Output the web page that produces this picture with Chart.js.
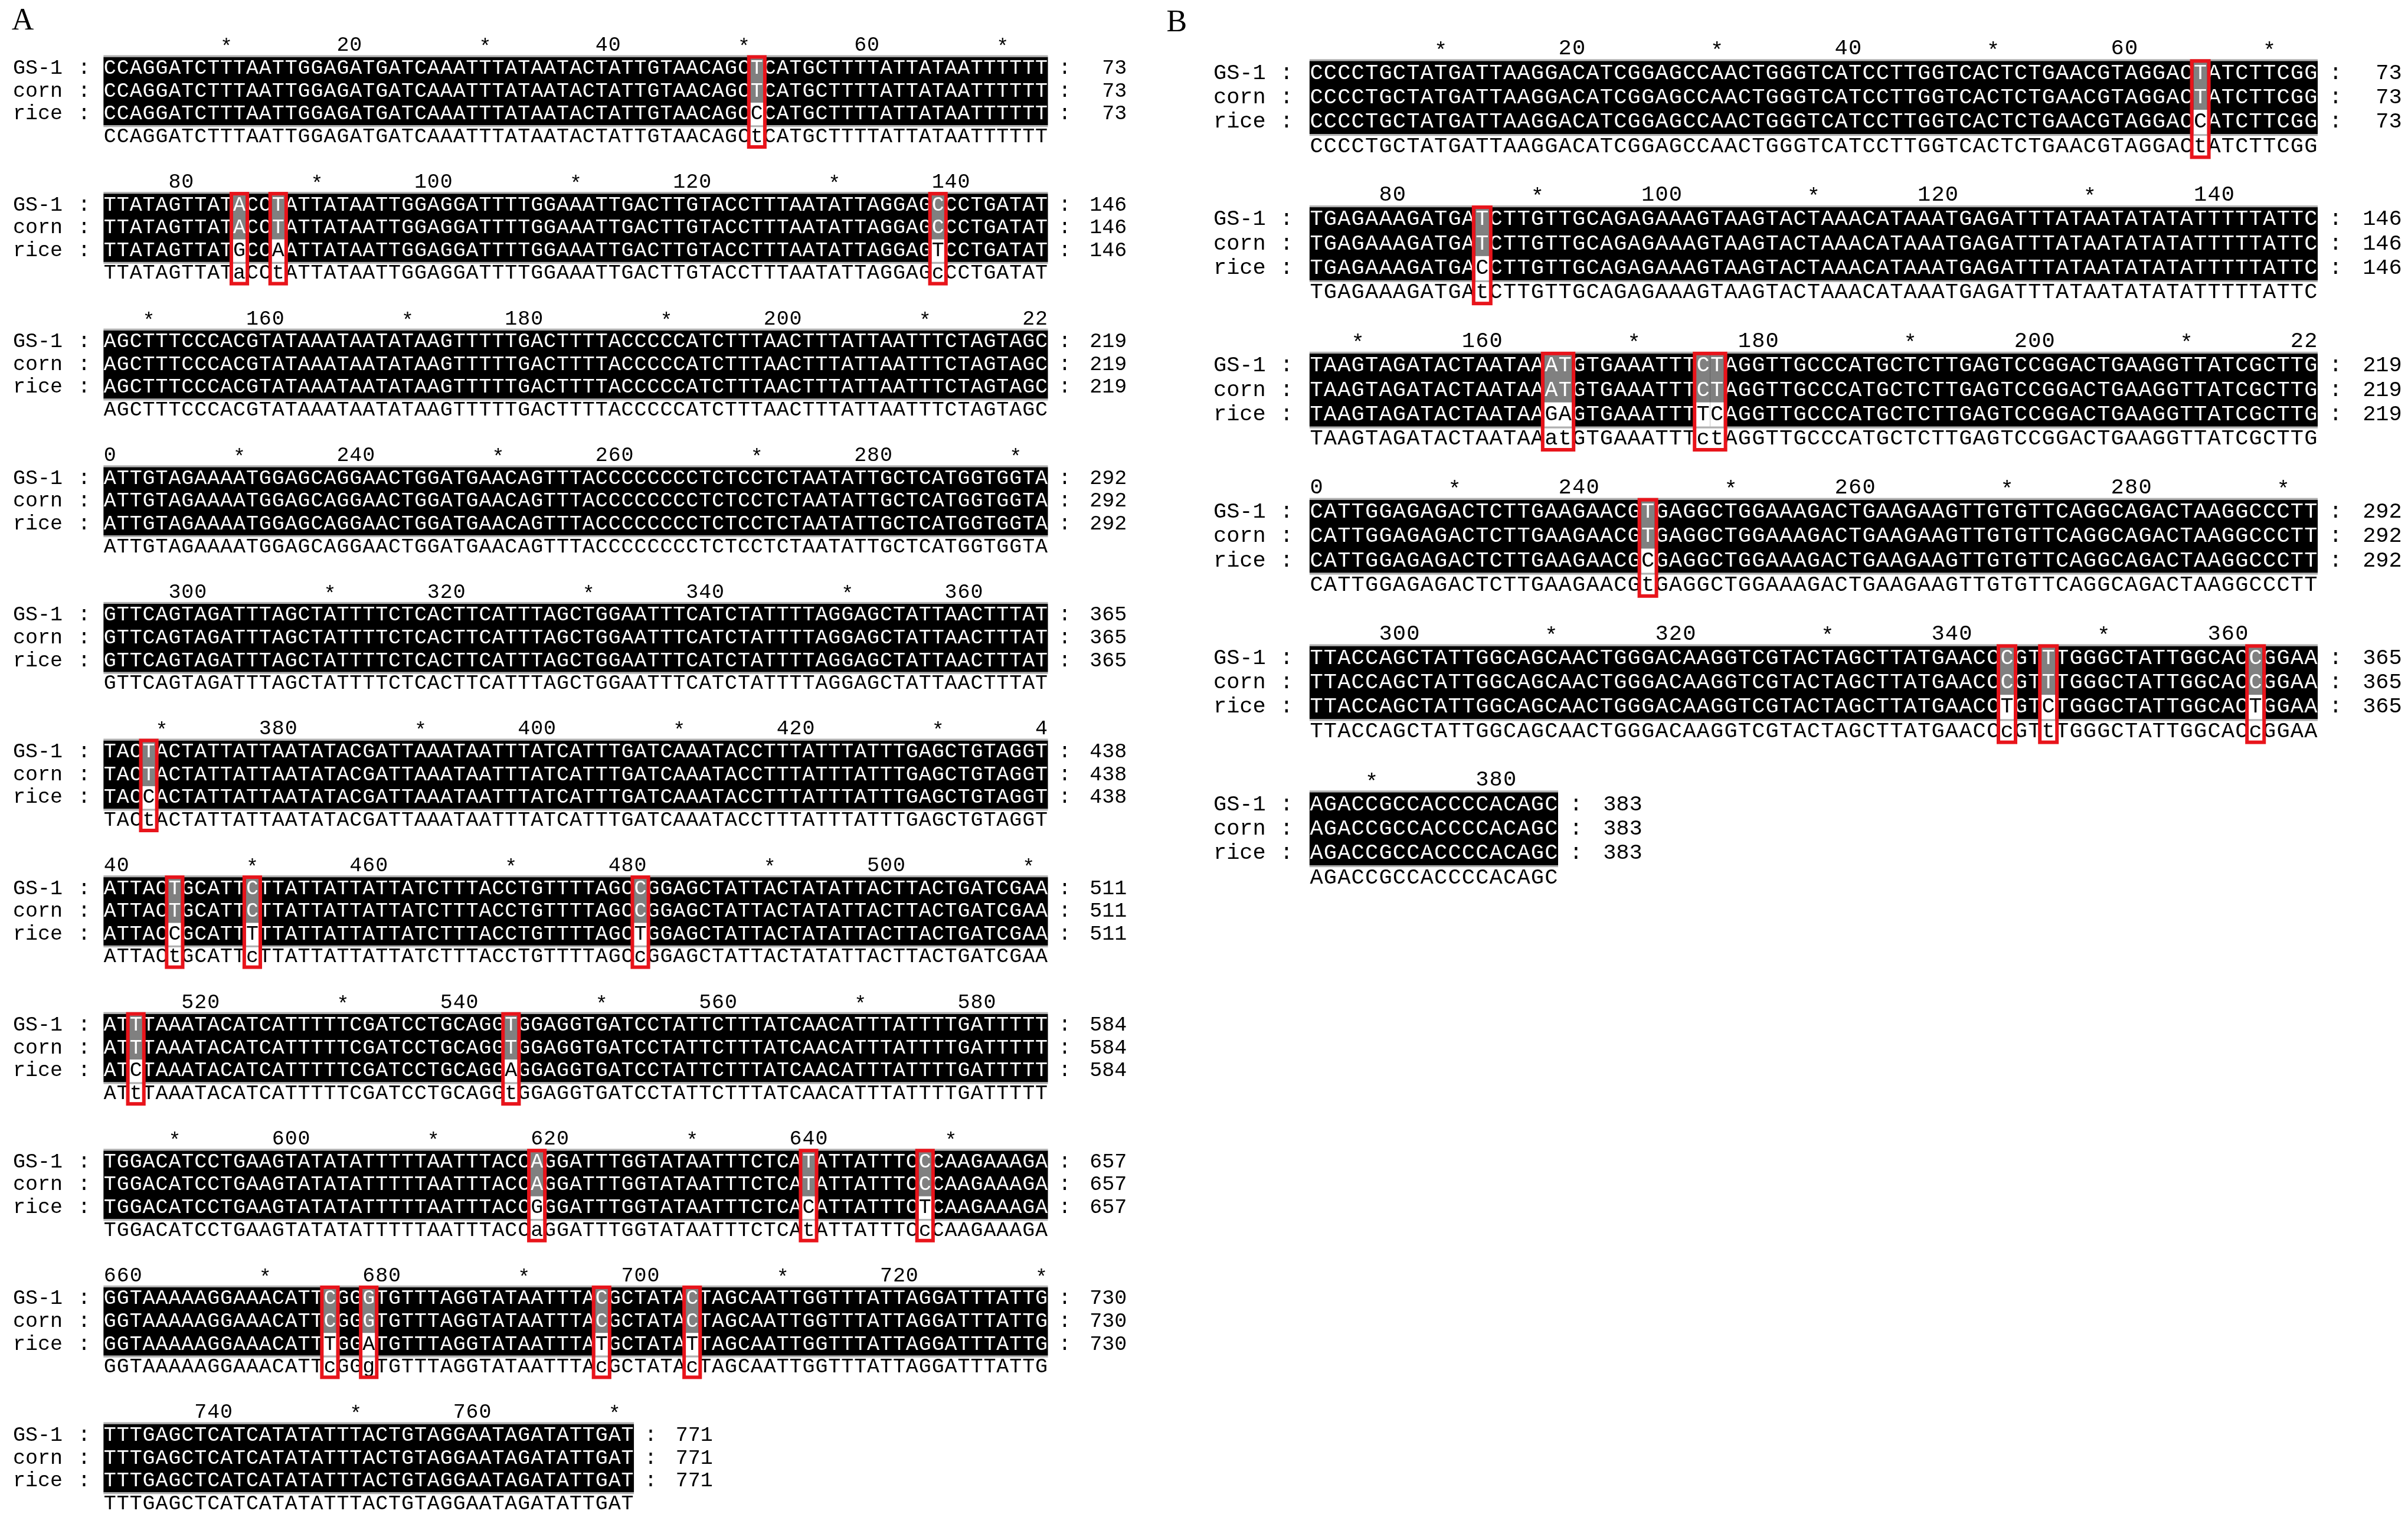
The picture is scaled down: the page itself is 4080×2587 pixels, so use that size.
<!DOCTYPE html>
<html lang="en">
<head>
<meta charset="UTF-8">
<title>Sequence alignment</title>
<style>
  body { margin: 0; background: #fff; width: 4080px; height: 2587px; overflow: hidden; }
  canvas { position: absolute; top: 0; }
</style>
</head>
<body>
<canvas id="chartA" width="1960" height="2587" style="left:0"></canvas>
<canvas id="chartB" width="2120" height="2587" style="left:1960px"></canvas>
<script src="https://cdn.jsdelivr.net/npm/chart.js"></script>
<script>
// sequence names
const rowNames = ['GS-1', 'corn', 'rice'];

// panel A: GS-1 sequence, one string per block of 73 columns
const aSeq = [
  'CCAGGATCTTTAATTGGAGATGATCAAATTTATAATACTATTGTAACAGCTCATGCTTTTATTATAATTTTTT',
  'TTATAGTTATACCTATTATAATTGGAGGATTTTGGAAATTGACTTGTACCTTTAATATTAGGAGCCCTGATAT',
  'AGCTTTCCCACGTATAAATAATATAAGTTTTTGACTTTTACCCCCATCTTTAACTTTATTAATTTCTAGTAGC',
  'ATTGTAGAAAATGGAGCAGGAACTGGATGAACAGTTTACCCCCCCCTCTCCTCTAATATTGCTCATGGTGGTA',
  'GTTCAGTAGATTTAGCTATTTTCTCACTTCATTTAGCTGGAATTTCATCTATTTTAGGAGCTATTAACTTTAT',
  'TACTACTATTATTAATATACGATTAAATAATTTATCATTTGATCAAATACCTTTATTTATTTGAGCTGTAGGT',
  'ATTACTGCATTCTTATTATTATTATCTTTACCTGTTTTAGCCGGAGCTATTACTATATTACTTACTGATCGAA',
  'ATTTAAATACATCATTTTTCGATCCTGCAGGTGGAGGTGATCCTATTCTTTATCAACATTTATTTTGATTTTT',
  'TGGACATCCTGAAGTATATATTTTTAATTTACCAGGATTTGGTATAATTTCTCATATTATTTCCCAAGAAAGA',
  'GGTAAAAAGGAAACATTCGGGTGTTTAGGTATAATTTACGCTATACTAGCAATTGGTTTATTAGGATTTATTG',
  'TTTGAGCTCATCATATATTTACTGTAGGAATAGATATTGAT'
];
// panel A: columns where rice differs (corn = GS-1), [column, rice base]
const aRice = [
  [[50, 'C']],
  [[10, 'G'], [13, 'A'], [64, 'T']],
  [], [], [],
  [[3, 'C']],
  [[5, 'C'], [11, 'T'], [41, 'T']],
  [[2, 'C'], [31, 'A']],
  [[33, 'G'], [54, 'C'], [63, 'T']],
  [[17, 'T'], [20, 'A'], [38, 'T'], [45, 'T']],
  []
];

// panel B
const bSeq = [
  'CCCCTGCTATGATTAAGGACATCGGAGCCAACTGGGTCATCCTTGGTCACTCTGAACGTAGGACTATCTTCGG',
  'TGAGAAAGATGATCTTGTTGCAGAGAAAGTAAGTACTAAACATAAATGAGATTTATAATATATATTTTTATTC',
  'TAAGTAGATACTAATAAATGTGAAATTTCTAGGTTGCCCATGCTCTTGAGTCCGGACTGAAGGTTATCGCTTG',
  'CATTGGAGAGACTCTTGAAGAACGTGAGGCTGGAAAGACTGAAGAAGTTGTGTTCAGGCAGACTAAGGCCCTT',
  'TTACCAGCTATTGGCAGCAACTGGGACAAGGTCGTACTAGCTTATGAACCCGTTTGGGCTATTGGCACCGGAA',
  'AGACCGCCACCCCACAGC'
];
const bRice = [
  [[64, 'C']],
  [[12, 'C']],
  [[17, 'G'], [18, 'A'], [28, 'T'], [29, 'C']],
  [[24, 'C']],
  [[50, 'T'], [53, 'C'], [68, 'T']],
  []
];

const BLOCK = 73;

function alignmentPlugin(seqs, rice, geo) {
  return {
    id: 'alignment',
    afterDatasetsDraw(chart) {
      const ctx = chart.ctx;
      const xs = chart.scales.x, ys = chart.scales.y;
      const X = v => xs.getPixelForValue(v);
      const Y = v => ys.getPixelForValue(v);
      const font = `${geo.fontPx}px "Liberation Mono", "Courier New", monospace`;
      ctx.save();
      ctx.textBaseline = 'middle';

      // panel letter
      ctx.font = `${geo.letterPx}px "Liberation Serif", serif`;
      ctx.fillStyle = '#000';
      ctx.textAlign = 'left';
      ctx.fillText(geo.letter, X(geo.letterX), Y(0.95));

      seqs.forEach((seq, b) => {
        const y0 = 6 * b;
        const start = b * BLOCK + 1;
        const bx = geo.blockX;
        const n = seq.length;
        const diffMap = {};
        rice[b].forEach(([c, base]) => { diffMap[c] = base; });
        const cx = c => X(bx + c + 0.5);
        ctx.font = font;

        // ruler
        ctx.fillStyle = '#000';
        ctx.textAlign = 'center';
        for (let p = Math.ceil(start / 10) * 10; p <= start + n + 3; p += 10) {
          if (p % 20 === 0) {
            const s = String(p);
            for (let k = 0; k < s.length; k++) {
              const col = p - (s.length - 1 - k) - start;
              if (col >= 0 && col < n) ctx.fillText(s[k], cx(col), Y(y0 + 2));
            }
          } else {
            const col = p - start;
            if (col >= 0 && col < n) ctx.fillText('*', cx(col), Y(y0 + 2.1));
          }
        }

        // black conservation box
        ctx.fillStyle = '#000';
        ctx.fillRect(X(bx), Y(y0 + 2.5), X(bx + n) - X(bx), Y(y0 + 5.5) - Y(y0 + 2.5));
        ctx.fillStyle = '#b0b0b0';
        ctx.fillRect(X(bx), Y(y0 + 2.5) - 3, X(bx + n) - X(bx), 3);
        ctx.fillRect(X(bx), Y(y0 + 5.5), X(bx + n) - X(bx), 3);
        Object.keys(diffMap).forEach(k => {
          const c = +k;
          ctx.fillStyle = '#808080';
          ctx.fillRect(X(bx + c), Y(y0 + 2.5), X(bx + c + 1) - X(bx + c), Y(y0 + 4.5) - Y(y0 + 2.5));
          ctx.fillStyle = '#fff';
          ctx.fillRect(X(bx + c), Y(y0 + 4.5), X(bx + c + 1) - X(bx + c), Y(y0 + 5.5) - Y(y0 + 4.5));
        });

        // sequence rows
        for (let c = 0; c < n; c++) {
          const d = diffMap[c];
          ctx.fillStyle = '#fff';
          ctx.fillText(seq[c], cx(c), Y(y0 + 3));
          ctx.fillText(seq[c], cx(c), Y(y0 + 4));
          ctx.fillStyle = d ? '#000' : '#fff';
          ctx.fillText(d || seq[c], cx(c), Y(y0 + 5));
          ctx.fillStyle = '#000';
          ctx.fillText(d ? seq[c].toLowerCase() : seq[c], cx(c), Y(y0 + 6));
        }

        // names and end positions
        const end = start + n - 1;
        rowNames.forEach((name, r) => {
          const yy = Y(y0 + 3 + r);
          ctx.fillStyle = '#000';
          ctx.textAlign = 'left';
          ctx.fillText(name, X(geo.labelX), yy);
          ctx.textAlign = 'center';
          ctx.fillText(':', X(geo.colonX), yy);
          ctx.fillText(':', X(bx + n + 1.3), yy);
          ctx.textAlign = 'right';
          ctx.fillText(String(end), X(bx + n + 6.1), yy);
        });

        // red boxes around variable columns
        const cols = Object.keys(diffMap).map(Number).sort((a, b2) => a - b2);
        const groups = [];
        cols.forEach(c => {
          const g = groups[groups.length - 1];
          if (g && g[1] === c - 1) g[1] = c; else groups.push([c, c]);
        });
        ctx.strokeStyle = '#e8141b';
        ctx.lineWidth = 6;
        groups.forEach(([c0, c1]) => {
          const x0 = X(bx + c0 - 0.12), x1 = X(bx + c1 + 1.12);
          ctx.strokeRect(x0, Y(y0 + 2.5), x1 - x0, Y(y0 + 6.45) - Y(y0 + 2.5));
        });
      });
      ctx.restore();
    }
  };
}

function makeChart(id, seqs, rice, geo) {
  const canvas = document.getElementById(id);
  const starts = seqs.map((s, b) => ({ x: geo.blockX, y: 6 * b + 3 }));
  return new Chart(canvas.getContext('2d'), {
    type: 'scatter',
    data: { datasets: [{ data: starts, pointRadius: 0 }] },
    options: {
      responsive: false,
      animation: false,
      devicePixelRatio: 1,
      layout: { padding: 0 },
      plugins: { legend: { display: false }, tooltip: { enabled: false } },
      scales: {
        x: { type: 'linear', display: false, min: 0, max: canvas.width / geo.unit },
        y: { type: 'linear', display: false, reverse: true, min: 0, max: canvas.height / geo.rowH }
      }
    },
    plugins: [alignmentPlugin(seqs, rice, geo)]
  });
}

makeChart('chartA', aSeq, aRice, {
  unit: 21.92, rowH: 38.6, blockX: 8.0, labelX: 1.0, colonX: 6.5,
  fontPx: 35, letter: 'A', letterX: 0.9, letterPx: 52
});
makeChart('chartB', bSeq, bRice, {
  unit: 23.4, rowH: 41.3, blockX: 11.06, labelX: 4.1, colonX: 9.4,
  fontPx: 37, letter: 'B', letterX: 0.7, letterPx: 52
});
</script>
</body>
</html>
